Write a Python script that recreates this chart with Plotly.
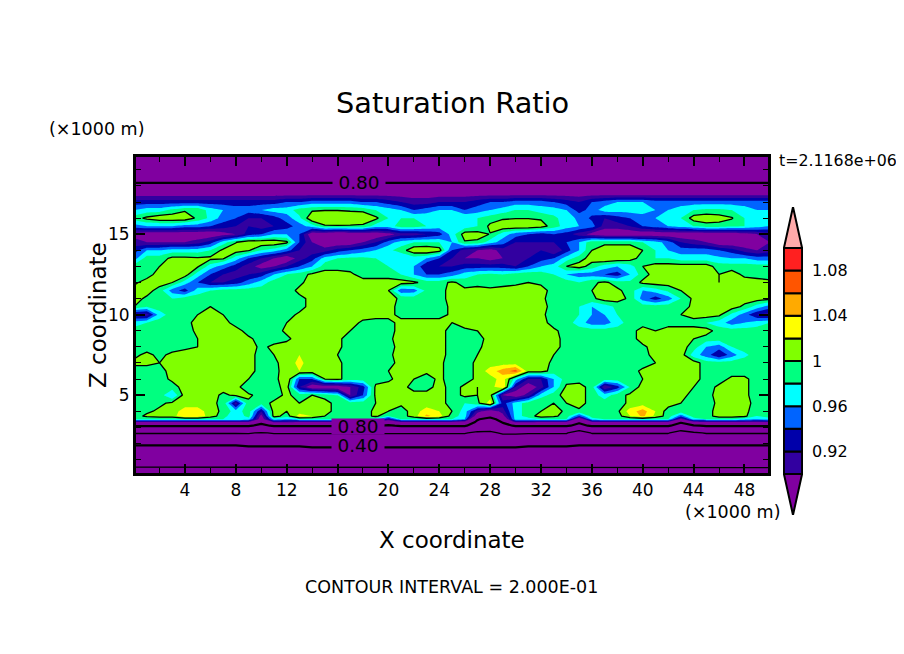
import numpy as np
import plotly.graph_objects as go

# heights of the grid rows, km
y_km = [0, 0.3, 0.55, 1.95, 2.65, 3.1, 3.33, 3.5, 3.7, 4, 4.5, 5, 5.5, 6, 6.5, 7, 7.5, 8, 8.5, 9, 9.5, 10,
        10.5, 11, 11.5, 12, 12.5, 13, 13.5, 14, 14.5, 15, 15.5, 16, 16.5, 17, 17.5, 18, 18.5, 20]
x_km = list(range(0, 51))

# saturation ratio x 100, one row per height, x = 0..50 km
ratio_pct = [
    [10,10,10,10,10,10,10,10,10,10,10,10,10,10,10,10,10,10,10,10,10,10,10,10,10,10,10,10,10,10,10,10,10,10,10,10,10,10,10,10,10,10,10,10,10,10,10,10,10,10,10],
    [16,16,16,16,16,16,16,16,16,16,16,16,16,16,16,16,16,16,16,16,16,16,16,16,16,16,16,16,16,16,16,16,16,16,16,16,16,16,16,16,16,16,16,16,16,16,16,16,16,16,16],
    [22,22,22,22,22,22,22,22,22,22,22,22,22,22,22,22,22,22,22,22,22,22,22,22,22,22,22,22,22,22,22,22,22,22,22,22,22,22,22,22,22,22,22,22,22,22,22,22,22,22,22],
    [41,41,41,41,41,41,41,41,41,42,42,42,42,42,43,43,43,43,43,43,43,43,43,43,43,43,43,43,43,43,43,42,42,42,42,41,41,41,41,41,41,41,41,41,41,41,41,41,41,41,41],
    [61,61,61,61,61,61,61,61,61,61,59,61,61,61,61,61,61,61,61,61,61,61,61,61,61,61,61,57,57,62,62,61,61,61,61,52,61,61,61,61,61,61,61,53,58,61,61,61,61,61,61],
    [81,81,81,81,81,81,81,81,81,81,78,81,81,81,81,81,81,81,81,81,79,81,81,81,81,81,81,75,71,77,81,81,81,81,81,78,81,81,81,81,81,81,81,76,79,81,81,81,81,81,81],
    [90,90,90,90,90,90,90,90,90,90,82,91,91,90,90,90,90,90,90,90,86,90,90,90,90,90,89,78,73,81,91,91,90,90,90,81,90,90,90,90,90,90,90,81,89,90,90,90,90,90,90],
    [98,98,98,98,98,98,98,98,98,97,88,97,96,98,98,98,98,98,98,97,92,98,98,98,98,98,96,81,75,86,97,97,98,98,98,86,97,98,98,98,98,98,98,89,97,98,98,98,97,96,97],
    [99,100.5,101,101,104,103.5,101,99,96,99,89,101,99,103,102,100,99,99,99,100.5,98,99,101,104.5,103,99,97,88,84,89,97,99,101,100.5,99,94,99,99,99,102,104.5,101.5,99,95,99,99,101,101,100.5,98,99],
    [99,99.5,100.5,101,103,103,101,99.5,97,99,92,101,100,101,101,101,99,99,99,100.5,100,99,101,103,102,100,97,91,88,91,97,99,100,101,99.5,99.5,99,99,99.5,103,105,102,99,99,99,99,101,101,100.5,99,99],
    [99,99,99.5,100.5,101,101,100.5,99.5,91,99.5,99,100.5,101,100,101,101,99,99,99,100,101,100.5,101,101,101,99,98,99.5,103,93,97,99,100,100,100,101,99,99,99,100.5,101,101,101,100,99,99,100.5,101,101,99,99],
    [99,99,99,96,101,101,101,99.5,100.5,100.5,99,99,100.5,99,100,99,98,90,94,100.5,101,101,101,101,101,99,100.5,100,101,90,88,91,97,99,101,101,99,97,99,100.5,101,100.5,100.5,101,99,99,101,101,100.5,99,99],
    [99,99,99,99,101,101,101,101,101,98,99,99,101,92,88,88,88,90,93,100.5,101,101,99,99,101,99,100.5,100,101,104,92,88,91,96,100.5,101,99,90,93,98,101,101,101,101,100,99,100.5,101,100.5,99,99],
    [99,99,99,100.5,101,101,101,101,101,100,98,99,102,94,94,100,100.5,99,99,99,99.5,101,100,99,100.5,99,99,100.5,101,103,97,92,92,96,99,99,99,99,99,99,100,101,101,101,101,99,99,100.5,100.5,99,99],
    [99,98,99,101,101,101,101,101,102,101,99,99,101.5,102,101.5,101,100.5,99,99,99,100,101,101,100.5,100.5,99,99,100.5,103,105,107,101,101,99,99,99,99,99,99,99,100.5,101,101,101,101,99,99,99,99,99,99],
    [100.5,101,100,101,101,101,101,101,101,101,99,99.5,101,102.5,101,101,100.5,99,99,99,99,101,102,101,100.5,99,99,100.5,101,101,101,101,101,99.5,99,99,99,99,99,99,99,100,101,101,101,99,99,99,99,99,99],
    [99.5,100.5,99.5,100.5,101,101,101,101,101,101,99,100,101,102,102,101,100,99,99,99,99.5,101,101,101,101,99,99,100,101,101,101,101,101,100,99,99,99,99,99,99,99,101,100,101,97,95,92,95,97.5,99,99],
    [99,99,99,99,99.5,100,100.5,101,101,101,99.5,100.5,101,101,101,101,100.5,99,99,99,99,101,101,101,101,99,99,99.5,101,101,101,101,101,101,99,99,99,99,99,99,99.5,101,101,101,99,96,95,98,99,99,99],
    [99,99,99,99,99,100,100.5,101,101,100.5,99,99,99.5,101,101,101,100.5,99,99,99,99.5,101,101,101,101,99,99,99,101,101,101,101,101,101,99,99,99,99,99,99,101,101,101,101,100,99,99,99,99,99,99],
    [99,99,99,99,99,100.5,101,101,101,99,99,99,100.5,101,101,101,101,100,99,99,99,101,101,101,101,99,99.5,100,101,101,101,101,101,100.5,99,99,99,99,99,99,101,100,101,101,101,101,99,99,99,99,99],
    [97,98,99,99,99,101,101,101,99,99,99,99,100,100.5,101,101,101,101,99.5,99,99,101,101,101,101,100,101,101,101,101,101,101,101,99,99,97,95,95,97,99,99,99,99,99,99,98,97,95,96,97,98],
    [91,91,97,99,99,100,101,100,99,99,99,99,99,100.5,101,101,101,101,101,101,101,99,99,99,99,100.5,101,101,101,101,101,101,100.5,99,99,98,96,96,98,99,99,99,99,100,101,101,100.5,97.5,95,92,91],
    [100,98,99,99,99,99.5,100,99,99,99,99,99,99,99,101,101,101,101,101,101,101,99,99,99,99,100.5,101,101,101,101,101,101,101,99,99,98,96,97,98.5,99,99,99,99,99,100.5,101,101,101,99.5,97,95],
    [101,99.5,98.5,98,99,99,99,99,99,99,99,99,99,99.5,100.5,101,101,101,101,101,101,99.5,99,99,99,101,101,101,101,101,101,101,100.5,99,99,99,99.5,101,101,99.5,95,93,95,98,100.5,101,101,101,101,101,100.5],
    [101,101,99,95,93,97,98,99,99,99,99,99,99,100.5,101,101,101,101,101,101,100,94.5,95,98.5,99,101,100.5,101,100.5,101,101,101,101,99,99,99,100,101,100.5,99,96,97,98.5,100,101,101,101,101,101,101,101],
    [99.5,101,101,100,97,94,92,92,93,95,97,99,99,99.5,101,101,101,101,101,101,101,101,100.5,99,99,100.5,99,99,99,99,99.5,100,99.5,99,99,98,99.5,100.5,99,98.5,100.5,101,101,101,101,101,100,101,101,101,100.5],
    [99,99,101,101,101,97,94,92,91,92,93,96,98,99,100.5,101,101,100.5,99,99,99,98,96,94,94,95,97,98,98.5,98,99,99.5,99,98,96,95,95,94,93,96,99,101,101,101,101,101,100,101,99.5,99,99],
    [99,99,100,101,100.5,100.3,97,95,93,91,89,90,92,94,96,99,99,99,99,99,98,97,96,92,92,92,93,93,93,93,92,94,96,97,100,101,99,97,96,97,100,101,101,101,101,101,99,99,99,99,99],
    [95,99,99,100.5,100.5,100.3,100.5,100.3,97,94,92,90,88,91,93,97,98,98.5,98.5,98,97,96,97,96,94,92,90,90,89,90,91,92,93,94,97,99,101,102,101.5,101,99,98,98,97,97,97,96.5,96,96,95,95],
    [93,96,96,97,97,97,98,100.5,101,100.2,98,97,95,92,91,91,93,94,95,96,97.5,99,101.5,102,101,94,91,90,89,91,92,92,92,90,93,96,100,101,101,101,100,98,96,95,95,95,94,93,91,90,91],
    [91,90,90,90,90,91,93,97,99.9,101.5,101.5,101.5,100.5,94,90,88,88,88,90,92,95,97,98,98,98,96,99.8,99.5,97,95,92,92,92,92,94,96,99.5,99.5,99.5,99.5,98,97,95,92,91,90,88,88,88,89,90],
    [89,88,88,88,88,88,88,89,90,93,94,96,96,94,88,88,87,88,88,88,89,91,91,92,93,97,101,101,99.9,97,95,94,93,94,93,91,89,88,88,88,88,88,88,88,88,88,88,88,89,90,91],
    [95,96,96,96,95,95,94,93,92,92,91,92,93,95,97,99.7,99.8,99.7,99.5,97,97,99,99,98,97,97,97,98,100.5,101.5,101.5,101.5,101,99,97,96,95,91,91,92,94,95,96,97,98,99,99,98.5,98,97,96],
    [99,100.5,101.5,101.5,101.5,99.5,97.5,95,94,92,92,93,95,97.5,101.8,101.8,101.8,101.8,101.8,100.5,98,98,98,97.5,97,98,98,98,99,99.7,99.9,99.9,99.7,98.5,97,95.5,93.5,92,93,94,95,96,96.5,98,101,101.5,101,100.2,98,97,97],
    [96,97,97,98.5,99.7,99.7,97,96,95,95,96,97,97,99,99.7,99.9,99.9,99.7,99.5,98,97,96,94,95,96,96,94,95,96,97,98,98,97,97,96,93,95,97,97,97,97,96,96,97,98,98.5,98.5,98,97,96,96],
    [93,93,93,93,93,93,93,93,93,93,93,93,94,94,95,95,95,95,94,94,93,92,91,91,92,92,92,93,94,94,95,95,95,94,93,92,94,95,96,96,96,95,95,95,95,95,95,95,95,95,95],
    [89,89,89,89,89,89,89,89,89,89,89,89,89,89,89,89,89,89,89,89,89,89,89,89,89,89,89,89,89,89,89,89,89,89,89,89,89,89,89,89,89,89,89,89,89,89,89,89,89,89,89],
    [83,83,83,83,83,83,83,83,83,83,83,83,83,83,83,83,83,83,83,83,83,83,83,83,83,83,83,83,83,83,83,83,83,83,83,83,83,83,83,83,83,83,83,83,83,83,83,83,83,83,83],
    [75,75,75,75,75,75,75,75,75,75,75,75,75,75,75,75,75,75,75,75,75,75,75,75,75,75,75,75,75,75,75,75,75,75,75,75,75,75,75,75,75,75,75,75,75,75,75,75,75,75,75],
    [68,68,68,68,68,68,68,68,68,68,68,68,68,68,68,68,68,68,68,68,68,68,68,68,68,68,68,68,68,68,68,68,68,68,68,68,68,68,68,68,68,68,68,68,68,68,68,68,68,68,68],
]

# the 0.2 contour near the ground, height in km (contour trace would not draw it)
low_line_km = [0.52, 0.52, 0.52, 0.52, 0.52, 0.52, 0.52, 0.52, 0.52, 0.52, 0.5, 0.5, 0.5, 0.5, 0.5, 0.5, 0.5, 0.5,
               0.5, 0.5, 0.5, 0.5, 0.5, 0.5, 0.5, 0.5, 0.5, 0.5, 0.48, 0.48, 0.5, 0.5, 0.5, 0.5, 0.5, 0.5, 0.5, 0.5,
               0.5, 0.5, 0.5, 0.5, 0.5, 0.5, 0.5, 0.5, 0.5, 0.5, 0.5, 0.5, 0.5]

# colour levels and the band colours (below first level ... above last level)
levels = [0.90, 0.92, 0.94, 0.96, 0.98, 1.00, 1.02, 1.04, 1.06, 1.08, 1.10]
band_colors = ["#8000a0", "#3200a0", "#0000aa", "#0064ff", "#00ffff", "#00ff80",
               "#80ff00", "#ffff00", "#ffaa00", "#ff5500", "#ff2020", "#ffaaaa"]
cbar_ticks = [0.92, 0.96, 1.0, 1.04, 1.08]
cbar_text = ["0.92", "0.96", "1", "1.04", "1.08"]

# black contour lines, 0.2 apart, the labelled ones heavier
thin_levels = [0.6, 1.0]
thick_levels = [0.4, 0.8]

line_labels = ["0.80", "0.80", "0.40"]
label_x = [17.7, 17.6, 17.6]
label_y = [18.2, 3.08, 1.85]

z = np.array(ratio_pct, dtype=float) / 100
# the page has an 8 px body margin, figure is placed inside it
W, H = 896, 646
FONT = "DejaVu Sans"


def fx(px):
    return (px - 8) / W


def fy(py):
    return 1 - (py - 8) / H


fig = go.Figure()

colorscale = [[i / (len(band_colors) - 1), c] for i, c in enumerate(band_colors)]
fig.add_trace(go.Contour(x=x_km, y=y_km, z=z, colorscale=colorscale, showscale=False, hoverinfo="skip",
                         contours=dict(coloring="fill", start=levels[0], end=levels[-1] + 0.001, size=0.02, showlines=False),
                         line=dict(width=0, smoothing=0)))
for level in thin_levels + thick_levels:
    fig.add_trace(go.Contour(x=x_km, y=y_km, z=z, showscale=False, hoverinfo="skip",
                             contours=dict(coloring="none", start=level, end=level, size=1),
                             line=dict(color="black", width=2.2 if level in thick_levels else 1.3, smoothing=0)))
fig.add_trace(go.Scatter(x=x_km, y=low_line_km, mode="lines", line=dict(color="black", width=1.3),
                         showlegend=False, hoverinfo="skip"))

# colour bar as its own small axes, the library one has no end arrows
low = levels[:-1]
fig.add_trace(go.Bar(x=[0] * len(low), y=[0.02] * len(low), base=low, width=1,
                     marker=dict(color=band_colors[1:-1], line=dict(color="black", width=2)),
                     xaxis="x2", yaxis="y2", showlegend=False, hoverinfo="skip"))
tip = 0.0362
fig.add_trace(go.Scatter(x=[-0.5, 0, 0.5, -0.5], y=[levels[0], levels[0] - tip, levels[0], levels[0]],
                         fill="toself", fillcolor=band_colors[0], mode="lines", line=dict(color="black", width=2),
                         xaxis="x2", yaxis="y2", showlegend=False, hoverinfo="skip", cliponaxis=False))
fig.add_trace(go.Scatter(x=[-0.5, 0, 0.5, -0.5], y=[levels[-1], levels[-1] + tip, levels[-1], levels[-1]],
                         fill="toself", fillcolor=band_colors[-1], mode="lines", line=dict(color="black", width=2),
                         xaxis="x2", yaxis="y2", showlegend=False, hoverinfo="skip", cliponaxis=False))

notes = [
    dict(text="Saturation Ratio", x=452, y=103, size=28.8),
    dict(text="(\u00d71000 m)", x=96, y=129, size=17.5),
    dict(text="(\u00d71000 m)", x=732, y=512, size=17.5),
    dict(text="t=2.1168e+06", x=838, y=160, size=15.8),
    dict(text="X coordinate", x=452, y=540, size=23),
    dict(text="CONTOUR INTERVAL = 2.000E-01", x=451, y=587, size=17.5),
]
annotations = [dict(text=n["text"], x=fx(n["x"]), y=fy(n["y"]), xref="paper", yref="paper", showarrow=False,
                    xanchor="center", yanchor="middle", font=dict(family=FONT, size=n["size"], color="black"))
               for n in notes]
annotations.append(dict(text="Z coordinate", x=fx(83), y=fy(315), xref="paper", yref="paper", showarrow=False,
                        textangle=-90, font=dict(family=FONT, size=23, color="black")))
for txt, lx, ly in zip(line_labels, label_x, label_y):
    annotations.append(dict(text=txt, x=lx, y=ly, xref="x", yref="y", showarrow=False, bgcolor=band_colors[0],
                            borderpad=0, width=52, height=15, font=dict(family=FONT, size=18.5, color="black")))

axis_common = dict(showgrid=False, zeroline=False, showline=True, linecolor="black", linewidth=3, mirror="ticks",
                   ticks="inside", tickcolor="black", tickwidth=2, ticklen=9,
                   tickfont=dict(family=FONT, size=17, color="black"))

fig.update_layout(
    width=W, height=H, margin=dict(l=0, r=0, t=0, b=0), paper_bgcolor="white", plot_bgcolor="white",
    barmode="overlay", showlegend=False, annotations=annotations,
    xaxis=dict(domain=[fx(136), fx(768)], range=[0.15, 49.85], tick0=0, dtick=4,
               minor=dict(dtick=2, ticks="inside", ticklen=5, tickcolor="black", tickwidth=1), **axis_common),
    yaxis=dict(domain=[fy(473), fy(157)], range=[0.16, 19.8], tick0=0, dtick=5,
               minor=dict(dtick=1, ticks="inside", ticklen=5, tickcolor="black", tickwidth=1), **axis_common),
    xaxis2=dict(domain=[fx(783), fx(803)], range=[-0.55, 0.55], visible=False, anchor="y2"),
    yaxis2=dict(domain=[fy(515), fy(207)], range=[levels[0] - tip, levels[-1] + tip], anchor="x2", side="right",
                showgrid=False, zeroline=False, tickvals=cbar_ticks, ticktext=cbar_text, ticks="",
                tickfont=dict(family=FONT, size=16, color="black"), ticklabelstandoff=8),
)

fig.write_html("out.html")
